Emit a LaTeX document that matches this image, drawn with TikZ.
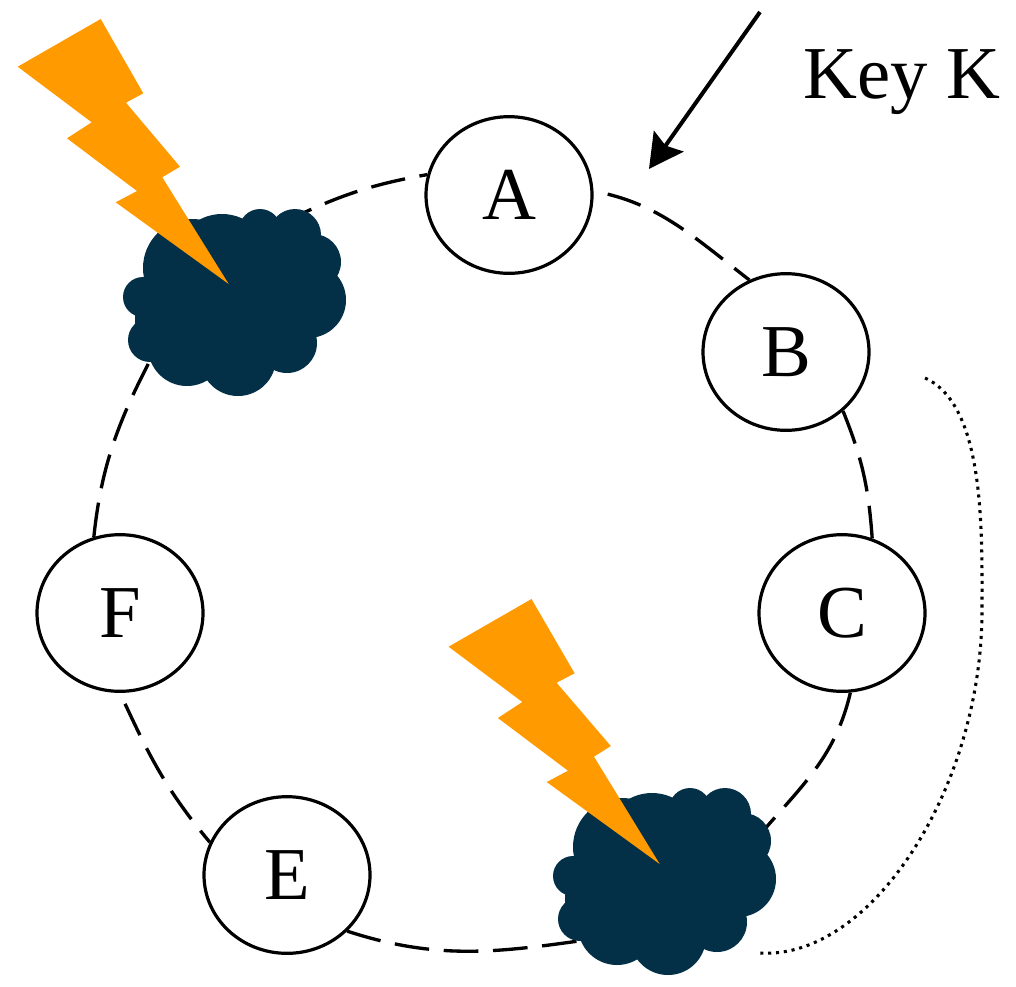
\documentclass[tikz,border=0pt]{standalone}
\usepackage{fontspec}
\setmainfont{Liberation Serif}
\usetikzlibrary{shapes.geometric,arrows.meta}
\definecolor{boltorange}{HTML}{FF9B00}
\definecolor{cloudnavy}{HTML}{032F47}
\tikzset{
  peer/.style={ellipse,draw=black,fill=white,line width=2.4pt,minimum width=124.5pt,minimum height=117.5pt,inner sep=0pt,font=\fontsize{56pt}{56pt}\selectfont},
  ringlink/.style={draw=black,line width=2.5pt,dash pattern=on 26pt off 11pt},
  bolt/.style={fill=boltorange,draw=none},
  cloudfill/.style={fill=cloudnavy,draw=none},
  keytext/.style={font=\fontsize{56pt}{56pt}\selectfont,inner sep=0pt}
}
\newcommand{\cloudlobes}{%
  \foreach \cx/\cy/\cr in {192/268/49,222/262/48,260/230/21,295/235/26,313/262/28,308/300/38,287/343/30,238/358/38,187/347/39,150/340/22,143/297/20,237/293/67,185/320/50}
    {\fill[cloudfill] (\cx,\cy) circle[radius=\cr*0.75pt];}%
}
\begin{document}
\begin{tikzpicture}[x=0.75pt,y=-0.75pt]
\useasboundingbox (0,0) rectangle (1016,986);
\node[peer] (A) at (509,195) {A};
\node[peer] (B) at (786,352) {B};
\node[peer] (C) at (842,613) {C};
\node[peer] (F) at (120,613) {F};
\node[peer] (E) at (287,875) {E};
\coordinate (X1r) at (280,224);
\coordinate (X1l) at (165,332);
\coordinate (X2r) at (745,853);
\coordinate (X2l) at (600,938);
\coordinate (arrowstart) at (760,12);
\coordinate (arrowtip) at (649,169);
\coordinate (dotstart) at (925,378);
\coordinate (dotend) at (760,953);
\node[keytext,anchor=base] (key) at (902,98) {Key K};
\draw[ringlink,shorten <=11pt] (A.3) to[out=-14,in=142] (B.117);
\draw[ringlink] (B.-46) to[out=-68,in=94] (C.68);
\draw[ringlink] (C.-84) to[out=-103,in=52] (X2r);
\draw[ringlink] (E.-43) to[out=-18,in=188] (X2l);
\draw[ringlink,shorten <=9pt] (F.-90) to[out=-65,in=130] (E.157);
\draw[ringlink] (F.109) to[out=84,in=242] (X1l);
\draw[ringlink] (X1r) to[out=26,in=190] (A.166);
\draw[line width=3pt,-{Stealth[length=25.5pt,width=27pt,inset=4pt]}] (arrowstart) -- (arrowtip);
\draw[line width=2.3pt,dash pattern=on 2.3pt off 3.6pt] (dotstart) .. controls (985,405) and (982,530) .. (982,610) .. controls (982,790) and (870,960) .. (dotend);
\begin{scope}\cloudlobes\end{scope}
\begin{scope}[shift={(430,579)}]\cloudlobes\end{scope}
\fill[bolt] (100.7,19) -- (143.3,93.3) -- (126,102.7) -- (180,166.7) -- (162.3,177.3) -- (228.7,284) -- (115.7,202.3) -- (137,191) -- (67,138.3) -- (91.7,122.3) -- (17.7,66.7) -- cycle;
\fill[bolt] (531.5,599) -- (574.6,673.3) -- (556.6,682.7) -- (610.8,746) -- (594,756.7) -- (659.7,864) -- (546.7,782) -- (568,770.7) -- (497.9,718) -- (522.3,702) -- (448.6,646.7) -- cycle;
\end{tikzpicture}
\end{document}
